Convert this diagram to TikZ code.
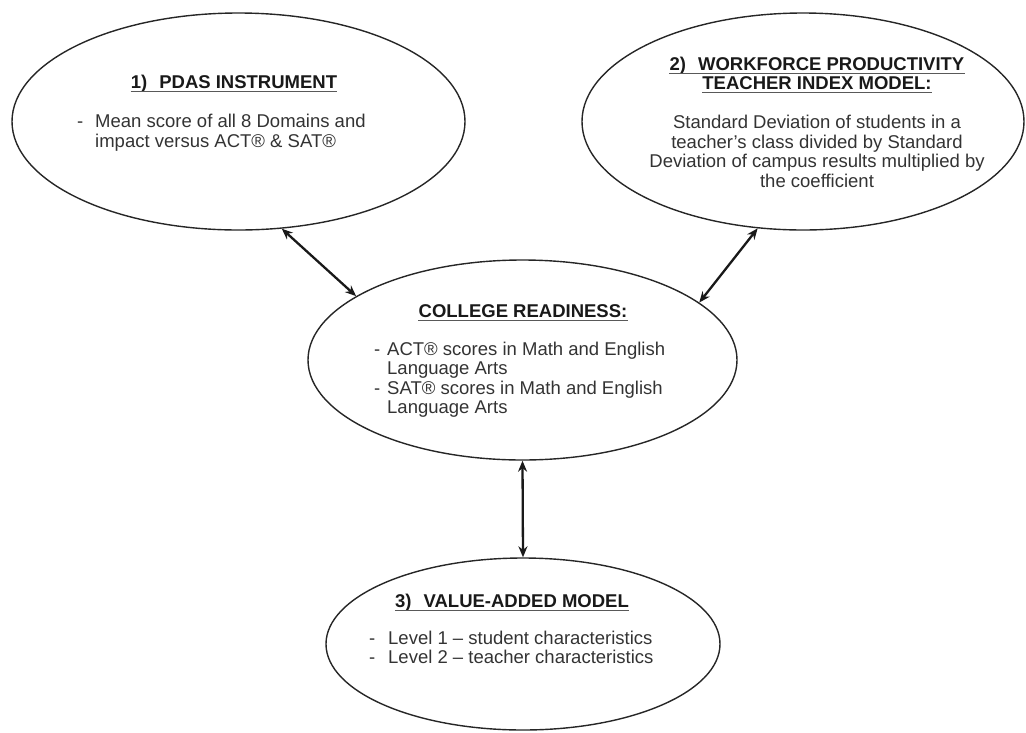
\documentclass[tikz,border=0pt]{standalone}
\usepackage{fontspec}
\setmainfont{Liberation Sans}
\usetikzlibrary{shapes.geometric,arrows.meta}
\tikzset{
  oval/.style={draw=black!85, line width=1.4pt, ellipse, inner sep=0pt},
  ttl/.style={font=\fontsize{18.5}{19.5}\selectfont\bfseries, text=black!90, inner sep=0pt, anchor=base},
  txt/.style={font=\fontsize{18.5}{19.5}\selectfont, text=black!80, inner sep=0pt},
  ctxt/.style={txt, anchor=base},
  ltxt/.style={txt, anchor=base west},
  uline/.style={draw=black!65, line width=1.3pt},
  link/.style={draw=black!90, line width=2.3pt, {Stealth[length=11pt,width=9pt]}-{Stealth[length=11pt,width=9pt]}}
}
\begin{document}
\begin{tikzpicture}[x=1pt,y=-1pt]
\useasboundingbox (0,0) rectangle (1026,732);
% ellipses
\node[oval, minimum width=453pt, minimum height=217pt] (e1) at (238.5,121.5) {};
\node[oval, minimum width=442pt, minimum height=217pt] (e2) at (803,121.5) {};
\node[oval, minimum width=429pt, minimum height=200pt] (e3) at (522.5,360) {};
\node[oval, minimum width=394pt, minimum height=172pt] (e4) at (523,644) {};
% ellipse 1 text
\node[ttl] (t1) at (234,88) {1)\hspace{0.65em}PDAS INSTRUMENT};
\draw[uline] ([yshift=-3.5pt]t1.base west) -- ([yshift=-3.5pt]t1.base east);
\node[ltxt] (d1) at (77,127) {-};
\node[ltxt] (b1a) at (95,127) {Mean score of all 8 Domains and};
\node[ltxt] (b1b) at (95,147) {impact versus ACT® \& SAT®};
% ellipse 2 text
\node[ttl] (t2a) at (817,70) {2)\hspace{0.65em}WORKFORCE PRODUCTIVITY};
\draw[uline] ([yshift=-3.5pt]t2a.base west) -- ([yshift=-3.5pt]t2a.base east);
\node[ttl] (t2b) at (817,89) {TEACHER INDEX MODEL:};
\draw[uline] ([yshift=-3.5pt]t2b.base west) -- ([yshift=-3.5pt]t2b.base east);
\node[ctxt] (b2a) at (817,128) {Standard Deviation of students in a};
\node[ctxt] (b2b) at (817,148) {teacher’s class divided by Standard};
\node[ctxt] (b2c) at (817,167.5) {Deviation of campus results multiplied by};
\node[ctxt] (b2d) at (817,187) {the coefficient};
% ellipse 3 text
\node[ttl] (t3) at (523,317) {COLLEGE READINESS:};
\draw[uline] ([yshift=-3.5pt]t3.base west) -- ([yshift=-3.5pt]t3.base east);
\node[ltxt] (d3a) at (374,355) {-};
\node[ltxt] (b3a) at (387,355) {ACT® scores in Math and English};
\node[ltxt] (b3b) at (387,374.5) {Language Arts};
\node[ltxt] (d3b) at (374,394) {-};
\node[ltxt] (b3c) at (387,394) {SAT® scores in Math and English};
\node[ltxt] (b3d) at (387,413) {Language Arts};
% ellipse 4 text
\node[ttl] (t4) at (512,607) {3)\hspace{0.65em}VALUE-ADDED MODEL};
\draw[uline] ([yshift=-3.5pt]t4.base west) -- ([yshift=-3.5pt]t4.base east);
\node[ltxt] (d4a) at (369,644) {-};
\node[ltxt] (b4a) at (388,644) {Level 1 – student characteristics};
\node[ltxt] (d4b) at (369,663) {-};
\node[ltxt] (b4b) at (388,663) {Level 2 – teacher characteristics};
% connectors
\draw[link] (e1.-68.3) -- (e3.159.9);
\draw[link] (e2.-113.5) -- (e3.18.3);
\draw[link] (e3.south) -- (e4.north);
\end{tikzpicture}
\end{document}
